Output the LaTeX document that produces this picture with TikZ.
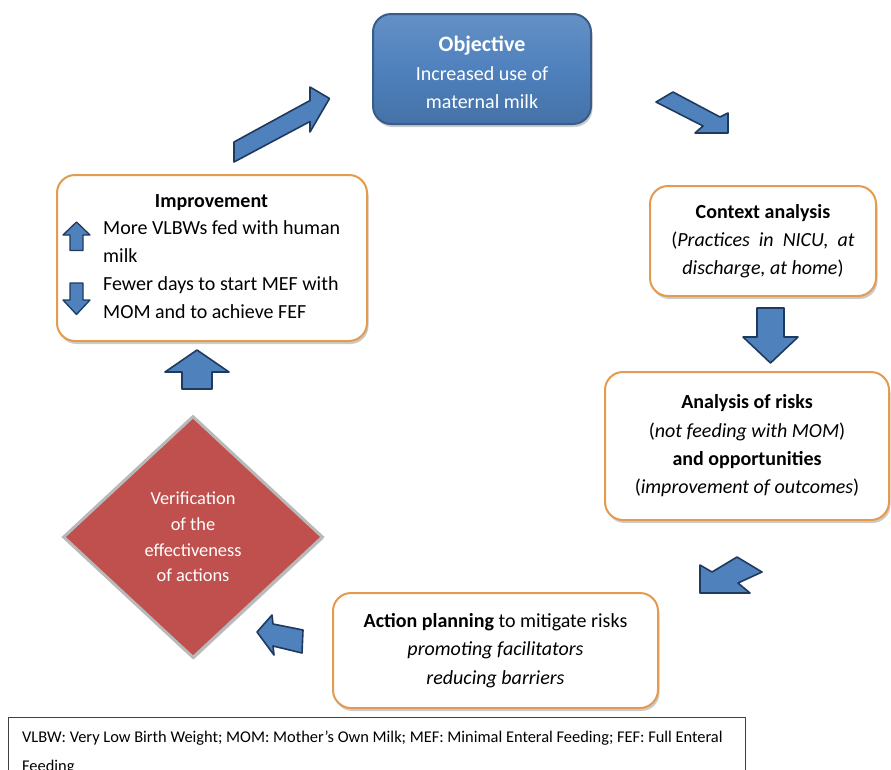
\documentclass[tikz,border=0pt]{standalone}
\usepackage{fontspec}
\setmainfont{Carlito}
\usetikzlibrary{shapes.geometric,shadows}
\definecolor{objblue}{HTML}{4F81BD}
\definecolor{objedge}{HTML}{385D8A}
\definecolor{arrblue}{HTML}{4F81BD}
\definecolor{arredge}{HTML}{1F3A5F}
\definecolor{boxorange}{HTML}{E39B4F}
\definecolor{diamred}{HTML}{C0504D}
\tikzset{
  stagebox/.style={draw=boxorange, line width=2pt, rounded corners=18pt, fill=white,
    drop shadow={shadow xshift=1.5pt, shadow yshift=-3pt, fill=black!40},
    inner sep=0pt, align=center, font=\fontsize{20}{28.3}\selectfont},
  objbox/.style={draw=objedge, line width=2pt, rounded corners=18pt,
    top color=objblue!88!white, bottom color=objblue!88!black, middle color=objblue,
    drop shadow={shadow xshift=1.5pt, shadow yshift=-3pt, fill=black!40},
    inner sep=0pt},
  blockarr/.style={draw=arredge, line width=1.6pt, fill=arrblue, line join=round},
  linetxt/.style={inner sep=0pt, font=\fontsize{20}{28.5}\selectfont, anchor=mid west},
  diamtxt/.style={inner sep=0pt, align=center, text=white, font=\fontsize{18.4}{25.7}\selectfont}
}
\begin{document}
\begin{tikzpicture}[x=1pt,y=-1pt]
\useasboundingbox (0,0) rectangle (891,769);

% Objective
\node[objbox, minimum width=218pt, minimum height=110pt] (obj) at (482,69) {};
\node[inner sep=0pt, align=center, text=white, font=\fontsize{20}{28.5}\selectfont] (objtxt) at (482,72.5)
  {\textbf{\fontsize{22}{28.5}\selectfont Objective}\\Increased use of\\maternal milk};

% Improvement box
\node[stagebox, minimum width=310pt, minimum height=166pt] (impr) at (212,258) {};
\node[inner sep=0pt, font=\fontsize{20}{28.5}\selectfont\bfseries, anchor=mid] (imprtitle) at (211.5,205) {Improvement};
\node[linetxt] (l1) at (103,232.5) {More VLBWs fed with human};
\node[linetxt] (l2) at (103,260.5) {milk};
\node[linetxt] (l3) at (103,288.5) {Fewer days to start MEF with};
\node[linetxt] (l4) at (103,316.5) {MOM and to achieve FEF};
\draw[blockarr, line width=1.3pt] (76.5,222) -- (90,235) -- (83,235) -- (83,250.5) -- (70,250.5) -- (70,235) -- (63,235) -- cycle;
\draw[blockarr, line width=1.3pt] (70,283) -- (83,283) -- (83,300) -- (90,300) -- (76.5,314.5) -- (63,300) -- (70,300) -- cycle;

% Context analysis
\node[stagebox, minimum width=226pt, minimum height=110pt] (ctx) at (763,241)
  {\textbf{Context analysis}\\(\textit{Practices\ \ in\ \ NICU,\ \ at}\\\textit{discharge, at home})};

% Analysis of risks
\node[stagebox, minimum width=284pt, minimum height=148pt] (risk) at (747,446)
  {\textbf{Analysis of risks}\\(\textit{not feeding with MOM})\\\textbf{and opportunities}\\(\textit{improvement of outcomes})};

% Action planning
\node[stagebox, minimum width=325pt, minimum height=115pt] (act) at (495.5,650.5)
  {\textbf{Action planning} to mitigate risks\\\textit{promoting facilitators}\\\textit{reducing barriers}};

% Verification diamond
\node[diamond, minimum width=260pt, minimum height=242pt, inner sep=0pt,
  fill=diamred, draw=gray!55, line width=3pt,
  drop shadow={shadow xshift=1pt, shadow yshift=-2pt, fill=black!35}] (verif) at (193,537) {};
\node[diamtxt] (veriftxt) at (193,537) {Verification\\of the\\effectiveness\\of actions};

% Block arrows
\draw[blockarr] (234,142) -- (310,100.5) -- (310,87) -- (329.5,98.5) -- (310,132) -- (310,121.5) -- (234,162) -- cycle;
\draw[blockarr] (673,92) -- (720,117) -- (728,113) -- (728,133) -- (695,133) -- (703,126) -- (656,102) -- cycle;
\draw[blockarr] (757,308) -- (784,308) -- (784,337) -- (798,337) -- (770.5,363) -- (743,337) -- (757,337) -- cycle;
\draw[blockarr] (700,593) -- (700,565) -- (712,572) -- (737,557) -- (762,572) -- (738,583) -- (750,593) -- cycle;
\draw[blockarr] (257,632) -- (272,615) -- (273,624) -- (303,630) -- (302,653) -- (273,646) -- (274,655) -- cycle;
\draw[blockarr] (197,350) -- (229,372) -- (212,372) -- (212,389) -- (182,389) -- (182,372) -- (165,372) -- cycle;

% Footer
\node[draw=black!75, line width=0.8pt, anchor=north west, minimum width=737pt, minimum height=62pt,
  inner sep=0pt] (foot) at (8,717) {};
\node[inner sep=0pt, anchor=north west, align=left, font=\fontsize{16.4}{29}\selectfont] (foottxt) at (22,731)
  {VLBW: Very Low Birth Weight; MOM: Mother’s Own Milk; MEF: Minimal Enteral Feeding; FEF: Full Enteral\\Feeding};
\end{tikzpicture}
\end{document}
